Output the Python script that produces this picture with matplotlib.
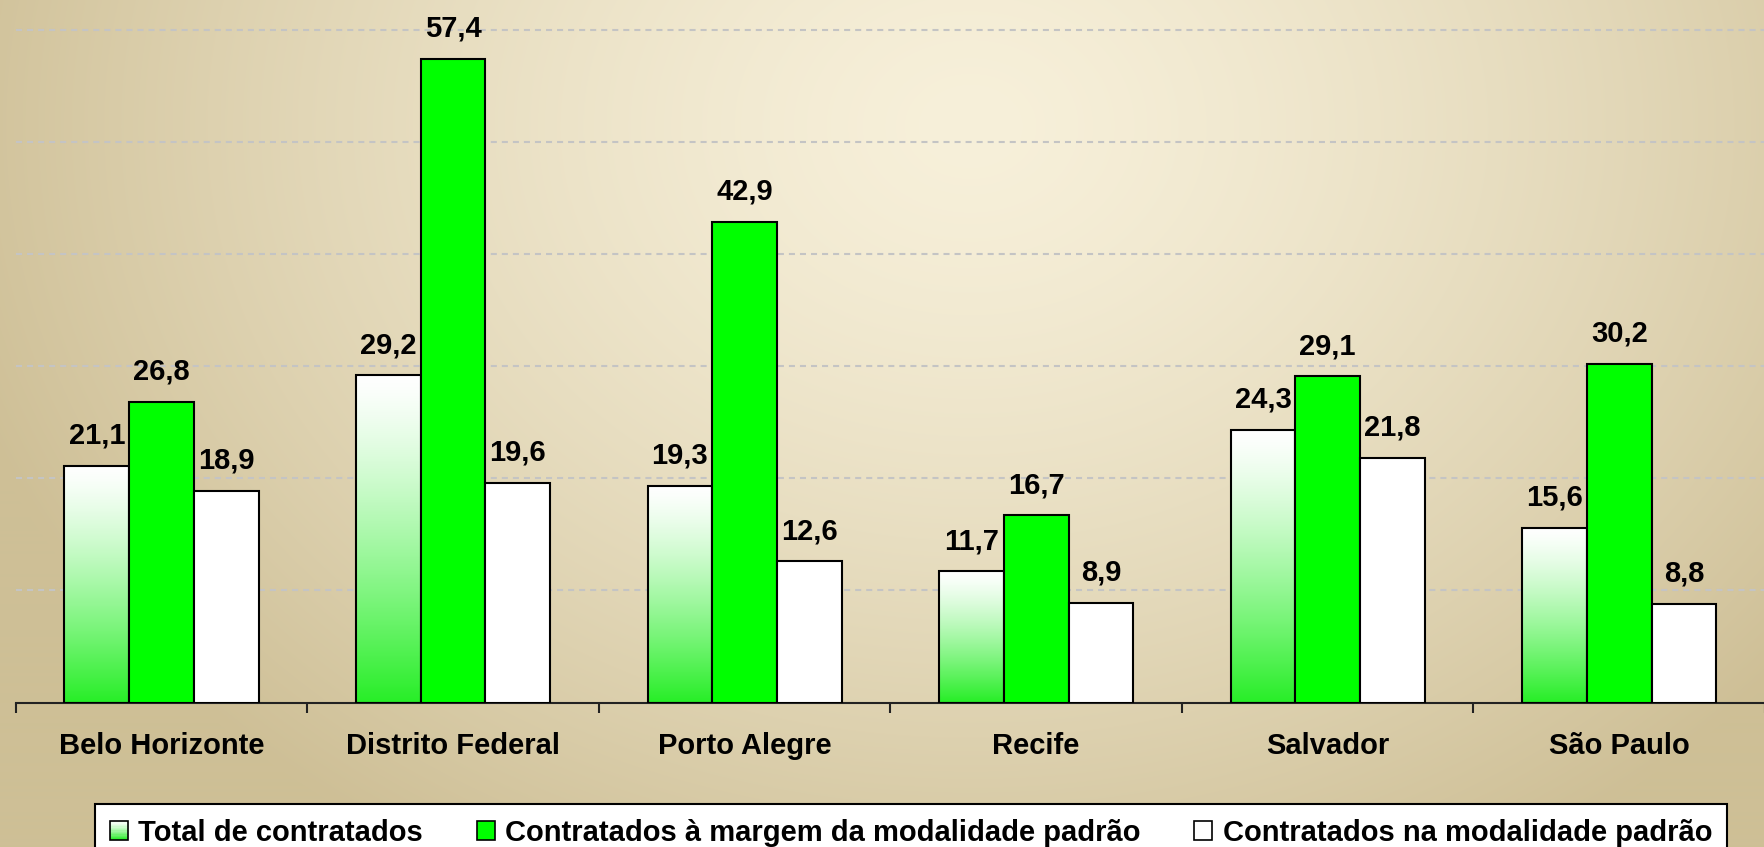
import numpy as np
import matplotlib
matplotlib.use("Agg")
import matplotlib.pyplot as plt
from matplotlib.patches import Rectangle
from matplotlib.legend_handler import HandlerBase

cidades = ["Belo Horizonte", "Distrito Federal", "Porto Alegre", "Recife", "Salvador", "São Paulo"]
total = [21.1, 29.2, 19.3, 11.7, 24.3, 15.6]
margem = [26.8, 57.4, 42.9, 16.7, 29.1, 30.2]
padrao = [18.9, 19.6, 12.6, 8.9, 21.8, 8.8]
nomes = ["Total de contratados",
         "Contratados à margem da modalidade padrão",
         "Contratados na modalidade padrão"]

plt.rcParams["font.family"] = ["Liberation Sans", "DejaVu Sans"]

W, H = 1765, 847
fig = plt.figure(figsize=(W / 100, H / 100), dpi=100)

# fundo bege com vinheta
yy, xx = np.mgrid[0:1:H * 1j, 0:1:W * 1j]
d = np.sqrt(((xx - 0.55) / 0.6) ** 2 + ((yy - 0.15) / 1.0) ** 2)
d = np.clip(d, 0, 1) ** 1.4
claro = np.array([247, 240, 218]) / 255
escuro = np.array([206, 191, 150]) / 255
img = claro + (escuro - claro) * d[..., None]
bg = fig.add_axes([0, 0, 1, 1], zorder=-10)
bg.imshow(img, aspect="auto", extent=[0, 1, 0, 1], origin="upper")
bg.axis("off")

left = 15.8 / W
base = 702.5 / H
ax = fig.add_axes([left, 1 - base, 1 - left, base])
ax.patch.set_alpha(0)

verde = np.array([40, 238, 40]) / 255


def cor_grad(t):
    return 1 + (verde - 1) * t ** 1.3


x = np.arange(len(cidades))
bw = 0.222

# barras com degrade (branco -> verde)
b1 = ax.bar(x - bw, total, bw, facecolor="none", edgecolor="black", lw=1.5, zorder=3)
t = np.linspace(0, 1, 256)
gimg = np.array([cor_grad(v) for v in t])[:, None, :]
for b in b1:
    x0 = b.get_x()
    ax.imshow(gimg, extent=[x0, x0 + b.get_width(), 0, b.get_height()],
              aspect="auto", origin="upper", zorder=2)

ax.bar(x, margem, bw, color="#00ff00", edgecolor="black", lw=1.5, zorder=3)
ax.bar(x + bw, padrao, bw, color="white", edgecolor="black", lw=1.5, zorder=3)

for vals, off in [(total, -bw), (margem, 0), (padrao, bw)]:
    for xi, v in zip(x, vals):
        ax.annotate(f"{v:.1f}".replace(".", ","), (xi + off, v), xytext=(0, 16),
                    textcoords="offset points", ha="center", va="baseline",
                    fontsize=21, fontweight="bold", zorder=4)

ax.set_xlim(-0.5, 5.5)
ax.set_ylim(0, 62.68)
ax.set_yticks([10, 20, 30, 40, 50, 60])
ax.yaxis.grid(True, color="#c4c4c4", lw=1.5, dashes=(2.9, 2.4))
ax.set_axisbelow(True)
ax.tick_params(axis="y", left=False, labelleft=False)
for s in ["left", "top", "right"]:
    ax.spines[s].set_visible(False)
ax.spines["bottom"].set_linewidth(1.5)
ax.spines["bottom"].set_color("#222222")

ax.set_xticks(np.arange(-0.5, 6, 1))
ax.set_xticklabels([])
ax.tick_params(axis="x", which="major", direction="out", length=7.5, width=1.5, color="#222222")
ax.set_xticks(x, minor=True)
ax.set_xticklabels(cidades, minor=True, fontsize=21, fontweight="bold")
ax.tick_params(axis="x", which="minor", length=0, pad=21)


class HandlerGrad(HandlerBase):
    def create_artists(self, legend, orig_handle, xd, yd, width, height, fontsize, trans):
        n = 14
        arts = []
        for i in range(n):
            c = cor_grad((i + 0.5) / n)
            arts.append(Rectangle((-xd, -yd + height * (1 - (i + 1) / n)), width, height / n,
                                  facecolor=c, edgecolor="none", transform=trans))
        arts.append(Rectangle((-xd, -yd), width, height, facecolor="none",
                              edgecolor="black", lw=1.2, transform=trans))
        return arts


h1 = Rectangle((0, 0), 1, 1, facecolor="white", edgecolor="black")
h2 = Rectangle((0, 0), 1, 1, facecolor="#00ff00", edgecolor="black", lw=1.2)
h3 = Rectangle((0, 0), 1, 1, facecolor="white", edgecolor="black", lw=1.2)
leg = fig.legend([h1, h2, h3], nomes, handler_map={h1: HandlerGrad()},
                 loc="upper left", bbox_to_anchor=(95 / W, 1 - 804 / H), borderaxespad=0,
                 ncol=3, prop={"size": 21, "weight": "bold"}, frameon=True, fancybox=False,
                 framealpha=1, edgecolor="black", handlelength=0.62, handleheight=0.62,
                 handletextpad=0.35, columnspacing=1.85, borderpad=0.5)
leg.get_frame().set_linewidth(1.5)

fig.savefig("out.png", dpi=100)
